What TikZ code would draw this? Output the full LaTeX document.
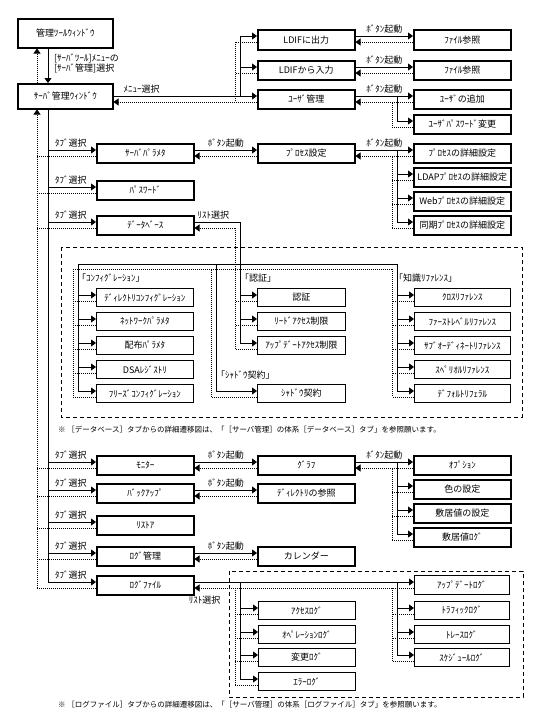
\documentclass[tikz,border=0pt]{standalone}
\usepackage{fontspec}
\setmainfont{Noto Sans CJK JP}
\usetikzlibrary{arrows.meta,calc}
\newcommand\mkbox[7]{%
  \node[#1, minimum width=#5pt, minimum height=#6pt] (#2) at (#3,#4) {#7};
  \coordinate (#2-ws) at ([yshift=-7pt]#2.north west);
  \coordinate (#2-wd) at ([yshift=-13pt]#2.north west);
  \coordinate (#2-es) at ([yshift=-7pt]#2.north east);
  \coordinate (#2-ed) at ([yshift=-13pt]#2.north east);
}
\tikzset{
 bx/.style={draw, line width=1.5pt, inner sep=0pt, anchor=north west, font=\fontsize{9pt}{10pt}\selectfont},
 tbx/.style={bx, line width=0.8pt},
 ln/.style={line width=0.8pt},
 arr/.style={ln, -{Triangle[length=5pt,width=7pt]}},
 dt/.style={ln, dash pattern=on 1pt off 1pt},
 darr/.style={dt, -{Triangle[length=5pt,width=7pt]}},
 lbl/.style={inner sep=0pt, font=\fontsize{9pt}{10pt}\selectfont},
 grp/.style={draw, line width=0.8pt, dash pattern=on 4pt off 3pt},
 fn/.style={inner sep=0pt, anchor=west, font=\fontsize{7.5pt}{8pt}\selectfont},
}
\begin{document}
\begin{tikzpicture}[x=1pt,y=-1pt]
\useasboundingbox[fill=white] (0,0) rectangle (540,720);
% dashed groups
\draw[grp] (61,247) rectangle (522,417);
\draw[grp] (229,571) rectangle (523,697);
% boxes
\mkbox{bx}{A}{17}{18}{95}{29}{管理ﾂｰﾙｳｨﾝﾄﾞｳ}
\mkbox{bx}{S}{17}{83}{95}{25}{ｻｰﾊﾞ管理ｳｨﾝﾄﾞｳ}
\mkbox{bx}{L1}{257}{29}{97}{20}{LDIFに出力}
\mkbox{bx}{L2}{257}{60}{97}{19}{LDIFから入力}
\mkbox{bx}{U}{257}{89}{97}{19}{ﾕｰｻﾞ管理}
\mkbox{bx}{F1}{413}{29}{97}{20}{ﾌｧｲﾙ参照}
\mkbox{bx}{F2}{413}{60}{97}{19}{ﾌｧｲﾙ参照}
\mkbox{bx}{U1}{413}{89}{97}{19}{ﾕｰｻﾞの追加}
\mkbox{bx}{U2}{413}{114}{97}{19}{ﾕｰｻﾞﾊﾟｽﾜｰﾄﾞ変更}
\mkbox{bx}{SP}{96}{143}{97}{19}{ｻｰﾊﾞﾊﾟﾗﾒﾀ}
\mkbox{bx}{PS}{257}{143}{97}{19}{ﾌﾟﾛｾｽ設定}
\mkbox{bx}{P1}{413}{143}{97}{19}{ﾌﾟﾛｾｽの詳細設定}
\mkbox{bx}{P2}{413}{167}{97}{19}{LDAPﾌﾟﾛｾｽの詳細設定}
\mkbox{bx}{P3}{413}{191}{97}{19}{Webﾌﾟﾛｾｽの詳細設定}
\mkbox{bx}{P4}{413}{215}{97}{19}{同期ﾌﾟﾛｾｽの詳細設定}
\mkbox{bx}{PW}{96}{180}{97}{19}{ﾊﾟｽﾜｰﾄﾞ}
\mkbox{bx}{DB}{96}{215}{97}{19}{ﾃﾞｰﾀﾍﾞｰｽ}
\mkbox{tbx}{C1}{96}{288}{97}{18}{ﾃﾞｨﾚｸﾄﾘｺﾝﾌｨｸﾞﾚｰｼｮﾝ}
\mkbox{tbx}{C2}{96}{312}{97}{18}{ﾈｯﾄﾜｰｸﾊﾟﾗﾒﾀ}
\mkbox{tbx}{C3}{96}{336}{97}{18}{配布ﾊﾟﾗﾒﾀ}
\mkbox{tbx}{C4}{96}{360}{97}{18}{DSAﾚｼﾞｽﾄﾘ}
\mkbox{tbx}{C5}{96}{384}{97}{18}{ﾌﾘｰｽﾞｺﾝﾌｨｸﾞﾚｰｼｮﾝ}
\mkbox{tbx}{N1}{257}{288}{88}{18}{認証}
\mkbox{tbx}{N2}{257}{312}{88}{18}{ﾘｰﾄﾞｱｸｾｽ制限}
\mkbox{tbx}{N3}{257}{336}{88}{18}{ｱｯﾌﾟﾃﾞｰﾄｱｸｾｽ制限}
\mkbox{tbx}{SH}{257}{384}{88}{18}{ｼｬﾄﾞｳ契約}
\mkbox{tbx}{K1}{414}{288}{96}{18}{ｸﾛｽﾘﾌｧﾚﾝｽ}
\mkbox{tbx}{K2}{414}{312}{96}{18}{ﾌｧｰｽﾄﾚﾍﾞﾙﾘﾌｧﾚﾝｽ}
\mkbox{tbx}{K3}{414}{336}{96}{18}{ｻﾌﾞｵｰﾃﾞｨﾈｰﾄﾘﾌｧﾚﾝｽ}
\mkbox{tbx}{K4}{414}{360}{96}{18}{ｽﾍﾟﾘｵﾙﾘﾌｧﾚﾝｽ}
\mkbox{tbx}{K5}{414}{384}{96}{18}{ﾃﾞﾌｫﾙﾄﾘﾌｪﾗﾙ}
\mkbox{bx}{MO}{96}{455}{97}{19}{ﾓﾆﾀｰ}
\mkbox{bx}{GR}{257}{455}{97}{19}{ｸﾞﾗﾌ}
\mkbox{bx}{O1}{413}{455}{97}{19}{ｵﾌﾟｼｮﾝ}
\mkbox{bx}{O2}{413}{479}{97}{19}{色の設定}
\mkbox{bx}{O3}{413}{503}{97}{19}{敷居値の設定}
\mkbox{bx}{O4}{413}{527}{97}{19}{敷居値ﾛｸﾞ}
\mkbox{bx}{BK}{96}{483}{97}{19}{ﾊﾞｯｸｱｯﾌﾟ}
\mkbox{bx}{DR}{257}{483}{97}{19}{ﾃﾞｨﾚｸﾄﾘの参照}
\mkbox{bx}{RS}{96}{515}{97}{19}{ﾘｽﾄｱ}
\mkbox{bx}{LM}{96}{546}{97}{19}{ﾛｸﾞ管理}
\mkbox{bx}{CA}{257}{546}{97}{19}{カレンダー}
\mkbox{bx}{LF}{96}{575}{97}{19}{ﾛｸﾞﾌｧｲﾙ}
\mkbox{tbx}{G1}{258}{601}{97}{18}{ｱｸｾｽﾛｸﾞ}
\mkbox{tbx}{G2}{258}{625}{97}{18}{ｵﾍﾟﾚｰｼｮﾝﾛｸﾞ}
\mkbox{tbx}{G3}{258}{648}{97}{18}{変更ﾛｸﾞ}
\mkbox{tbx}{G4}{258}{672}{97}{18}{ｴﾗｰﾛｸﾞ}
\mkbox{tbx}{H1}{414}{575}{95}{19}{ｱｯﾌﾟﾃﾞｰﾄﾛｸﾞ}
\mkbox{tbx}{H2}{414}{601}{95}{18}{ﾄﾗﾌｨｯｸﾛｸﾞ}
\mkbox{tbx}{H3}{414}{625}{95}{18}{ﾄﾚｰｽﾛｸﾞ}
\mkbox{tbx}{H4}{414}{648}{95}{18}{ｽｹｼﾞｭｰﾙﾛｸﾞ}
% reference columns
\coordinate (xs) at (48,0); \coordinate (xd) at (37,0);
\coordinate (xm) at (240,0); \coordinate (xmd) at (235,0);
\coordinate (xu) at (397,0); \coordinate (xud) at (392,0);
\coordinate (xc) at (78,0); \coordinate (xcd) at (73,0);
\coordinate (xh) at (216,0); \coordinate (xhd) at (211,0);
\coordinate (hy) at (0,264); \coordinate (hyd) at (0,269);
% A <-> S
\draw[arr] (A.south -| xs) -- (S.north -| xs);
\draw[darr] (S.north -| xd) -- (A.south -| xd);
\node[lbl, anchor=north west, align=left] (ml) at (54,54) {[ｻｰﾊﾞﾂｰﾙ]ﾒﾆｭｰの\\{}[ｻｰﾊﾞ管理]選択};
% tab trunk
\draw[ln] (S.south -| xs) -- (LF-ws -| xs);
\draw[darr] (LF-wd -| xd) -- (S.south -| xd);
\foreach \X in {SP,PW,DB,MO,BK,RS,LM,LF}{
  \draw[arr] (\X-ws -| xs) -- (\X-ws);
  \draw[dt] (\X-wd) -- (\X-wd -| xd);
  \path (\X-ws -| xs) ++(7,-3) node[lbl, anchor=south west] (tab\X) {ﾀﾌﾞ選択};
}
% menu selection
\draw[arr] (U-ws -| S.east) -- (U-ws);
\path (U-ws -| S.east) ++(10,-3) node[lbl, anchor=south west] (menu) {ﾒﾆｭｰ選択};
\draw[ln] (U-ws -| xm) -- (L1-ws -| xm);
\draw[arr] (L1-ws -| xm) -- (L1-ws);
\draw[arr] (L2-ws -| xm) -- (L2-ws);
\draw[darr] (U-wd) -- (U-wd -| S.east);
\draw[dt] (L1-wd) -- (L1-wd -| xmd) -- (U-wd -| xmd);
\draw[dt] (L2-wd) -- (L2-wd -| xmd);
% button pairs
\foreach \P/\Q/\n in {L1/F1/1, L2/F2/2, U/U1/3, SP/PS/4, PS/P1/5, MO/GR/6, GR/O1/7, BK/DR/8, LM/CA/9}{
  \draw[arr] (\P-es) -- node[lbl, above=2pt] (btn\n) {ﾎﾞﾀﾝ起動} (\Q-ws);
  \draw[darr] (\Q-wd) -- (\P-ed);
}
% branches
\draw[arr] (U-es -| xu) -- (U2-ws -| xu) -- (U2-ws);
\draw[dt] (U2-wd) -- (U2-wd -| xud) -- (U1-wd -| xud);
\draw[ln] (PS-es -| xu) -- (P4-ws -| xu);
\draw[dt] (P4-wd -| xud) -- (P1-wd -| xud);
\foreach \Y in {P2,P3,P4}{\draw[arr] (\Y-ws -| xu) -- (\Y-ws); \draw[dt] (\Y-wd) -- (\Y-wd -| xud);}
\draw[ln] (GR-es -| xu) -- (O4-ws -| xu);
\draw[dt] (O4-wd -| xud) -- (O1-wd -| xud);
\foreach \Y in {O2,O3,O4}{\draw[arr] (\Y-ws -| xu) -- (\Y-ws); \draw[dt] (\Y-wd) -- (\Y-wd -| xud);}
% database list selection
\draw[ln] (DB-es) -- (DB-es -| xm) -- (N3-ws -| xm);
\path (DB-es) ++(3,-3) node[lbl, anchor=south west] (lst1) {ﾘｽﾄ選択};
\draw[darr] (DB-ed -| xmd) -- (DB-ed);
\draw[dt] (DB-ed -| xmd) -- (N3-wd -| xmd);
\draw[ln] (hy -| xc) -- (hy -| xu);
\draw[dt] (hyd -| xcd) -- (hyd -| xud);
\draw[ln] (hy -| xc) -- (C5-ws -| xc);
\draw[dt] (hyd -| xcd) -- (C5-wd -| xcd);
\foreach \Y in {C1,C2,C3,C4,C5}{\draw[arr] (\Y-ws -| xc) -- (\Y-ws); \draw[dt] (\Y-wd) -- (\Y-wd -| xcd);}
\foreach \Y in {N1,N2,N3}{\draw[arr] (\Y-ws -| xm) -- (\Y-ws); \draw[dt] (\Y-wd) -- (\Y-wd -| xmd);}
\draw[arr] (hy -| xh) -- (SH-ws -| xh) -- (SH-ws);
\draw[dt] (SH-wd) -- (SH-wd -| xhd) -- (hyd -| xhd);
\draw[ln] (hy -| xu) -- (K5-ws -| xu);
\draw[dt] (hyd -| xud) -- (K5-wd -| xud);
\foreach \Y in {K1,K2,K3,K4,K5}{\draw[arr] (\Y-ws -| xu) -- (\Y-ws); \draw[dt] (\Y-wd) -- (\Y-wd -| xud);}
\node[lbl, anchor=west] (gl1) at (77,278) {「ｺﾝﾌｨｸﾞﾚｰｼｮﾝ」};
\node[lbl, anchor=west] (gl2) at (240,278) {「認証」};
\node[lbl, anchor=west] (gl3) at (216,375) {「ｼｬﾄﾞｳ契約」};
\node[lbl, anchor=west] (gl4) at (394,278) {「知識ﾘﾌｧﾚﾝｽ」};
% log file list selection
\draw[arr] (LF-es) -- (H1-ws);
\path (LF-ed) ++(10,8) node[lbl, anchor=north] (lst2) {ﾘｽﾄ選択};
\draw[darr] (H1-wd) -- (LF-ed);
\draw[ln] (LF-es -| xm) -- (G4-ws -| xm);
\draw[dt] (LF-ed -| xmd) -- (G4-wd -| xmd);
\foreach \Y in {G1,G2,G3,G4}{\draw[arr] (\Y-ws -| xm) -- (\Y-ws); \draw[dt] (\Y-wd) -- (\Y-wd -| xmd);}
\draw[ln] (LF-es -| xu) -- (H4-ws -| xu);
\draw[dt] (LF-ed -| xud) -- (H4-wd -| xud);
\foreach \Y in {H2,H3,H4}{\draw[arr] (\Y-ws -| xu) -- (\Y-ws); \draw[dt] (\Y-wd) -- (\Y-wd -| xud);}
% footnotes
\node[fn] (fn1) at (58,430) {※ ［データベース］タブからの詳細遷移図は、「［サーバ管理］の体系［データベース］タブ」を参照願います。};
\node[fn] (fn2) at (58,705) {※ ［ログファイル］タブからの詳細遷移図は、「［サーバ管理］の体系［ログファイル］タブ」を参照願います。};
\end{tikzpicture}
\end{document}
